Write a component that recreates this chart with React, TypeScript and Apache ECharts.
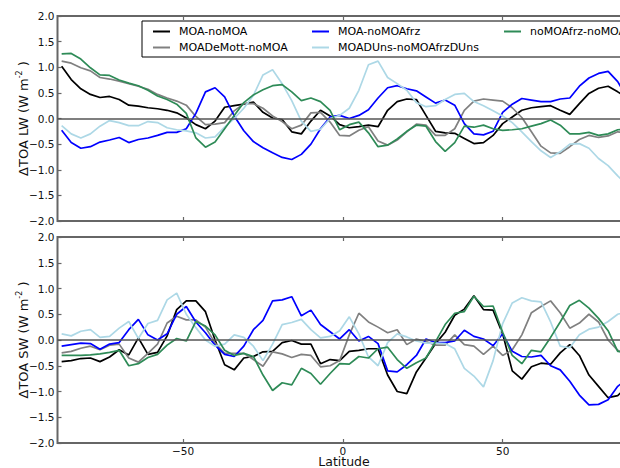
import React, { useEffect, useRef } from "react";
import * as echarts from "echarts";

const lat = [-88,-85,-82,-79,-76,-73,-70,-67,-64,-61,-58,-55,-52,-49,-46,-43,-40,-37,-34,-31,-28,-25,-22,-19,-16,-13,-10,-7,-4,-1,2,5,8,11,14,17,20,23,26,29,32,35,38,41,44,47,50,53,56,59,62,65,68,71,74,77,80,83,86,89];

const seriesNames = ["MOA-noMOA", "MOADeMott-noMOA", "MOA-noMOAfrz", "MOADUns-noMOAfrzDUns", "noMOAfrz-noMOA"];
const seriesColors = ["#000000", "#808080", "#0000ff", "#add8e6", "#2e8b57"];

// Top panel: ΔTOA LW
const lwMoa = [1.02,0.76,0.58,0.47,0.41,0.43,0.37,0.26,0.24,0.21, 0.19,0.16,0.11,0.01,-0.12,-0.2,-0.05,0.22,0.25,0.28, 0.32,0.12,0.01,-0.02,-0.26,-0.3,-0.05,0.16,0.05,-0.12, -0.18,-0.16,-0.13,-0.16,0.16,0.33,0.38,0.37,0.06,-0.25, -0.28,-0.29,-0.39,-0.49,-0.47,-0.33,-0.1,0.03,0.16,0.21, 0.23,0.25,0.16,0.08,0.29,0.49,0.59,0.63,0.52,0.4];
const lwDeMott = [1.12,1.08,0.99,0.93,0.8,0.77,0.73,0.68,0.63,0.57, 0.47,0.4,0.34,0.26,0.04,-0.12,-0.11,-0.08,0.15,0.29, 0.29,0.2,0.05,-0.06,-0.2,-0.13,0.11,0.12,-0.07,-0.33, -0.34,-0.23,-0.16,-0.44,-0.52,-0.42,-0.26,-0.11,-0.13,-0.33, -0.33,-0.2,0.16,0.34,0.38,0.36,0.34,0.21,0.02,-0.26, -0.54,-0.67,-0.68,-0.55,-0.41,-0.33,-0.37,-0.34,-0.26,-0.28];
const lwFrz = [-0.23,-0.47,-0.58,-0.55,-0.46,-0.42,-0.37,-0.47,-0.41,-0.38, -0.33,-0.27,-0.27,-0.2,0.1,0.52,0.6,0.42,0.05,-0.24, -0.45,-0.57,-0.67,-0.76,-0.8,-0.7,-0.5,-0.2,0.03,0.06, 0.0,0.06,0.17,0.4,0.6,0.64,0.58,0.54,0.42,0.3, 0.36,0.26,-0.1,-0.3,-0.32,-0.25,0.12,0.28,0.39,0.36, 0.33,0.33,0.38,0.4,0.63,0.79,0.88,0.92,0.72,0.4];
const lwDUns = [-0.14,-0.3,-0.38,-0.3,-0.15,-0.04,-0.08,-0.14,-0.14,-0.06, -0.08,-0.18,-0.22,-0.24,-0.28,-0.38,-0.36,-0.17,0.0,0.2, 0.45,0.85,0.95,0.68,0.35,-0.05,-0.25,-0.21,0.0,0.06, 0.2,0.55,1.05,1.12,0.8,0.68,0.55,0.31,0.23,0.25, 0.37,0.47,0.49,0.33,0.25,0.15,0.05,-0.08,-0.26,-0.45, -0.63,-0.76,-0.65,-0.5,-0.49,-0.58,-0.78,-0.92,-1.12,-1.3];
const lwNoFrz = [1.26,1.27,1.16,0.99,0.85,0.84,0.75,0.69,0.64,0.55, 0.44,0.37,0.28,0.1,-0.38,-0.56,-0.46,-0.2,0.06,0.31, 0.46,0.56,0.64,0.66,0.52,0.35,0.4,0.33,0.16,-0.22, -0.12,-0.07,-0.28,-0.55,-0.52,-0.4,-0.25,-0.13,-0.15,-0.45, -0.64,-0.47,-0.15,-0.17,-0.13,-0.2,-0.23,-0.22,-0.2,-0.15, -0.1,-0.03,-0.13,-0.3,-0.3,-0.27,-0.33,-0.3,-0.22,-0.2];

// Bottom panel: ΔTOA SW
const swMoa = [-0.42,-0.4,-0.36,-0.35,-0.42,-0.33,-0.19,-0.29,0.04,-0.28, -0.24,0.08,0.59,0.76,0.76,0.55,0.0,-0.48,-0.58,-0.35, -0.32,-0.23,-0.22,-0.05,-0.01,-0.08,-0.08,-0.46,-0.38,-0.4, -0.22,-0.2,-0.17,-0.17,-0.68,-1.0,-1.04,-0.62,-0.35,-0.07, 0.15,0.48,0.6,0.86,0.59,0.58,0.12,-0.6,-0.76,-0.52, -0.45,-0.47,-0.25,-0.09,-0.3,-0.68,-0.9,-1.12,-1.08,-0.9];
const swDeMott = [-0.25,-0.22,-0.16,-0.12,-0.19,-0.1,-0.08,-0.35,-0.43,-0.26, -0.08,0.33,0.46,0.39,0.39,0.25,-0.06,-0.26,-0.26,-0.26, -0.38,-0.51,-0.23,-0.27,-0.34,-0.28,-0.3,-0.52,-0.5,-0.4, 0.1,0.52,0.35,0.25,0.14,0.2,-0.09,0.02,-0.03,-0.1, -0.1,0.1,-0.09,-0.12,-0.28,-0.12,-0.3,-0.19,0.1,0.53, 0.65,0.76,0.53,0.23,0.33,0.5,0.35,0.0,-0.2,-0.3];
const swFrz = [-0.12,-0.09,-0.06,-0.07,-0.18,-0.08,-0.05,0.2,0.4,0.1, 0.0,0.12,0.5,0.65,0.35,0.14,-0.1,-0.28,-0.32,-0.12, 0.2,0.38,0.76,0.78,0.84,0.47,0.58,0.3,0.16,0.02, 0.2,-0.02,0.07,-0.07,-0.6,-0.62,-0.48,-0.3,0.02,-0.05, -0.05,-0.02,0.19,0.07,0.02,-0.11,0.12,-0.22,-0.32,-0.33, -0.3,-0.5,-0.58,-0.8,-1.07,-1.26,-1.25,-1.16,-0.9,-0.75];
const swDUns = [0.12,0.08,0.17,0.2,0.05,0.07,0.23,0.36,0.03,0.32, 0.38,0.78,0.91,0.5,0.24,0.0,-0.12,-0.08,0.1,0.05, -0.12,-0.4,-0.08,0.3,0.34,0.4,0.2,0.04,0.07,0.18, 0.45,0.12,-0.33,-0.5,-0.05,0.12,0.06,-0.02,-0.06,-0.06, -0.07,-0.17,-0.55,-0.7,-0.91,-0.4,0.32,0.72,0.82,0.76, 0.74,0.35,-0.12,-0.15,0.1,0.21,0.25,0.36,0.5,0.55];
const swNoFrz = [-0.3,-0.3,-0.3,-0.29,-0.27,-0.24,-0.2,-0.5,-0.46,-0.34, -0.28,-0.1,0.03,-0.02,0.36,0.27,0.1,-0.2,-0.3,-0.26, -0.32,-0.68,-0.98,-0.83,-0.87,-0.55,-0.65,-0.86,-0.65,-0.46, -0.47,-0.32,-0.35,-0.17,-0.14,-0.38,-0.55,-0.44,-0.35,-0.03, 0.3,0.52,0.55,0.85,0.65,0.66,0.15,-0.3,-0.46,-0.2, -0.23,0.05,0.35,0.67,0.77,0.62,0.42,0.18,-0.22,-0.25];

const lwSeries = [lwMoa, lwDeMott, lwFrz, lwDUns, lwNoFrz];
const swSeries = [swMoa, swDeMott, swFrz, swDUns, swNoFrz];

const xTickValues = [-50, 0, 50];
const yMin = -2;
const yMax = 2;
const yStep = 0.5;
const xMin = -89.3;
const xMax = 90;

const FONT = "DejaVu Sans";
const FRAME = "#666666";

const fmtMinus = (v: number, digits: number) =>
  (v < 0 ? "\u2212" : "") + Math.abs(v).toFixed(digits);

export default function App() {
  const ref = useRef<HTMLDivElement>(null);

  useEffect(() => {
    if (!ref.current) return;
    const chart = echarts.init(ref.current, null, { renderer: "svg" });

    const gridBase = {
      left: 57.5,
      right: -10.5,
      show: true,
      borderColor: FRAME,
      borderWidth: 2,
      backgroundColor: "transparent",
      containLabel: false,
      outerBoundsMode: "none",
    };
    const grids = [
      { ...gridBase, top: 16, height: 205 },
      { ...gridBase, top: 237, height: 206 },
    ];

    const tick = {
      show: true,
      inside: true,
      length: 4,
      customValues: xTickValues,
      lineStyle: { color: FRAME, width: 1.2 },
    };

    const xAxes: any[] = [];
    [0, 1].forEach((g) => {
      xAxes.push({
        type: "value",
        gridIndex: g,
        position: "bottom",
        min: xMin,
        max: xMax,
        axisLine: { show: false, onZero: false },
        splitLine: { show: false },
        axisTick: tick,
        axisLabel: {
          show: g === 1,
          customValues: xTickValues,
          formatter: (v: number) => fmtMinus(v, 0),
          fontFamily: FONT,
          fontSize: 10.5,
          color: "#111",
          margin: 2,
          lineHeight: 11,
        },
        name: g === 1 ? "Latitude" : "",
        nameLocation: "middle",
        nameGap: 12.5,
        nameMoveOverlap: false,
        nameTextStyle: { fontFamily: FONT, fontSize: 12.5, color: "#111", lineHeight: 12 },
      });
      xAxes.push({
        type: "value",
        gridIndex: g,
        position: "top",
        min: xMin,
        max: xMax,
        axisLine: { show: false, onZero: false },
        splitLine: { show: false },
        axisTick: tick,
        axisLabel: { show: false },
      });
    });

    const yNames = ["\u0394TOA LW (W m{sup|-2} )", "\u0394TOA SW (W m{sup|-2} )"];
    const yAxes = [0, 1].map((g) => ({
      type: "value",
      gridIndex: g,
      min: yMin,
      max: yMax,
      interval: yStep,
      axisLine: { show: false, onZero: false },
      splitLine: { show: false },
      axisTick: { show: true, inside: true, length: 4, lineStyle: { color: FRAME, width: 1.2 } },
      axisLabel: {
        formatter: (v: number) => fmtMinus(v, 1),
        fontFamily: FONT,
        fontSize: 10.5,
        color: "#111",
        margin: 3,
      },
      name: yNames[g],
      nameLocation: "middle",
      nameRotate: 90,
      nameGap: 26,
      nameMoveOverlap: false,
      nameTextStyle: {
        fontFamily: FONT,
        fontSize: 13,
        color: "#111",
        lineHeight: 16,
        rich: {
          sup: { fontFamily: FONT, fontSize: 8, lineHeight: 8, verticalAlign: "top", color: "#111" },
        },
      },
    }));

    const series: any[] = [];
    [lwSeries, swSeries].forEach((set, g) => {
      set.forEach((vals, i) => {
        const s: any = {
          type: "line",
          name: seriesNames[i],
          xAxisIndex: g * 2,
          yAxisIndex: g,
          data: lat.map((x, j) => [x, vals[j]]),
          showSymbol: false,
          symbol: "none",
          lineStyle: { color: seriesColors[i], width: 1.7 },
          itemStyle: { color: seriesColors[i] },
          emphasis: { disabled: true },
          z: 2,
        };
        if (i === 0) {
          s.markLine = {
            silent: true,
            symbol: "none",
            label: { show: false },
            lineStyle: { color: "#555555", width: 1.5, type: "solid" },
            data: [{ yAxis: 0 }],
          };
        }
        series.push(s);
      });
    });

    const legendCommon = {
      orient: "vertical",
      top: 20,
      icon: "rect",
      itemWidth: 17,
      itemHeight: 2,
      itemGap: 3,
      selectedMode: false,
      z: 5,
      textStyle: { fontFamily: FONT, fontSize: 11, color: "#000", padding: [0, 0, 0, 4], lineHeight: 13 },
    };

    chart.setOption({
      animation: false,
      backgroundColor: "#ffffff",
      grid: grids,
      xAxis: xAxes,
      yAxis: yAxes,
      series,
      legend: [
        { ...legendCommon, left: 148, data: [seriesNames[0], seriesNames[1]] },
        { ...legendCommon, left: 307, data: [seriesNames[2], seriesNames[3]] },
        { ...legendCommon, left: 499, data: [seriesNames[4]] },
      ],
      graphic: [
        {
          type: "rect",
          z: 4,
          shape: { x: 142, y: 21, width: 520, height: 36 },
          style: { fill: "#ffffff", stroke: "#000000", lineWidth: 1 },
        },
      ],
    });

    return () => chart.dispose();
  }, []);

  return (
    <div
      ref={ref}
      style={{ position: "fixed", left: 0, top: 0, width: 620, height: 468, background: "#fff" }}
    />
  );
}
